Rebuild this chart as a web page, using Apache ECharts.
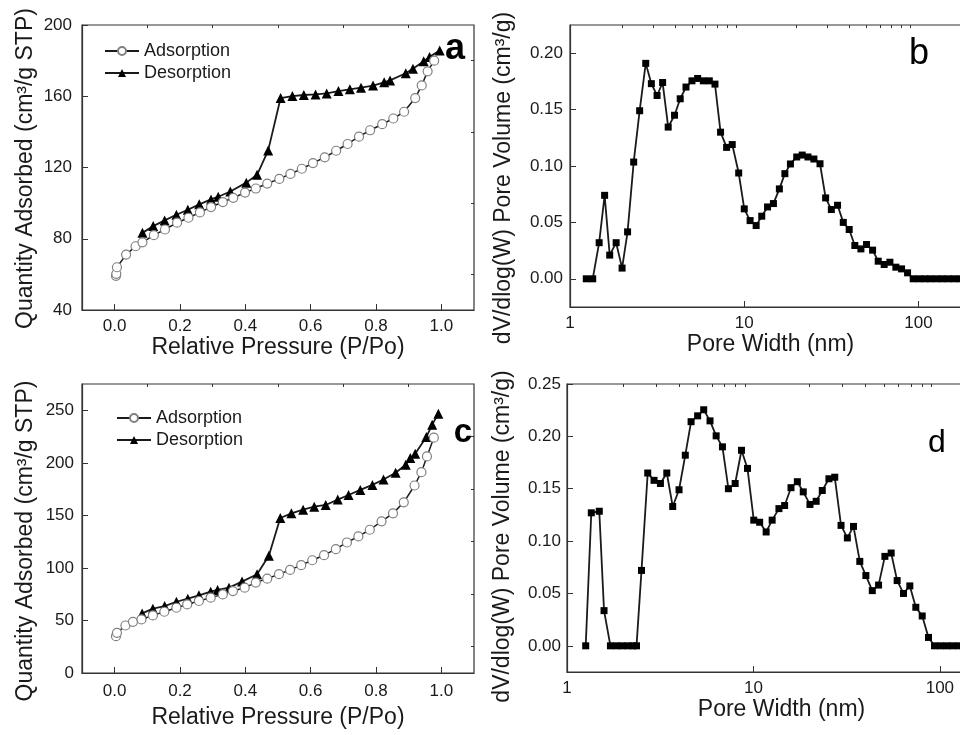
<!DOCTYPE html>
<html>
<head>
<meta charset="utf-8">
<title>N2 sorption isotherms and pore size distribution</title>
<script src="https://cdn.jsdelivr.net/npm/echarts@6/dist/echarts.min.js"></script>
<style>
  html, body { margin: 0; padding: 0; background: #fff; }
  #chart { width: 960px; height: 735px; }
</style>
</head>
<body>
<div id="chart"></div>
<script>
// panel a: isotherm
const aAdsP = [0.004, 0.005, 0.007, 0.035, 0.064, 0.085, 0.12, 0.154, 0.191, 0.226, 0.261, 0.295, 0.331, 0.363, 0.399, 0.432, 0.467, 0.504, 0.538, 0.573, 0.607, 0.643, 0.678, 0.713, 0.748, 0.782, 0.819, 0.853, 0.886, 0.92, 0.94, 0.958, 0.978];
const aAdsQ = [59.2, 60.3, 64, 71.1, 75.8, 78, 82, 85.2, 89, 91.8, 94.8, 97.8, 100.6, 103, 105.9, 108.2, 111, 113.6, 116.4, 119.3, 122.5, 125.7, 129.4, 133.2, 137.3, 140.9, 144.3, 147.5, 151.3, 159, 166.1, 174, 180];
const aDesP = [0.995, 0.964, 0.946, 0.913, 0.891, 0.843, 0.825, 0.791, 0.754, 0.72, 0.685, 0.649, 0.615, 0.579, 0.544, 0.508, 0.47, 0.436, 0.403, 0.354, 0.317, 0.295, 0.259, 0.224, 0.189, 0.153, 0.118, 0.085];
const aDesQ = [185.7, 182.1, 179.7, 175.5, 172.9, 168.9, 167.8, 166, 164.8, 163.9, 162.9, 161.6, 161, 160.7, 160.1, 159, 129.6, 115.9, 111.5, 106.5, 103.6, 102.1, 99.3, 96.3, 93.5, 90.3, 87.1, 83.3];

// panel b: pore size distribution
const bWidth = [1.24, 1.35, 1.47, 1.58, 1.69, 1.84, 1.99, 2.14, 2.32, 2.51, 2.72, 2.93, 3.16, 3.40, 3.66, 3.98, 4.29, 4.63, 5.01, 5.40, 5.82, 6.30, 6.79, 7.31, 7.92, 8.53, 9.29, 10.0, 10.8, 11.7, 12.6, 13.6, 14.7, 15.9, 17.1, 18.4, 20.0, 21.5, 23.2, 25.1, 27.2, 29.3, 31.6, 34.3, 37.0, 40.0, 43.1, 46.7, 50.3, 54.5, 58.7, 63.5, 68.5, 74.1, 79.9, 86.5, 93.2, 101, 109, 117, 127, 137, 148, 160, 173];
const bVolume = [0, 0, 0.032, 0.074, 0.021, 0.032, 0.0095, 0.0416, 0.1035, 0.149, 0.191, 0.173, 0.1625, 0.174, 0.1345, 0.145, 0.1596, 0.17, 0.1755, 0.1776, 0.1755, 0.1755, 0.1726, 0.130, 0.1165, 0.119, 0.0938, 0.062, 0.0516, 0.0472, 0.0555, 0.0637, 0.0667, 0.0797, 0.0932, 0.1018, 0.108, 0.1097, 0.108, 0.1062, 0.102, 0.0717, 0.0614, 0.0652, 0.050, 0.0437, 0.0295, 0.0265, 0.0304, 0.0254, 0.0156, 0.0127, 0.0147, 0.0103, 0.0088, 0.0053, 0, 0, 0, 0, 0, 0, 0, 0, 0];

// panel c: isotherm
const cAdsP = [0.004, 0.007, 0.033, 0.056, 0.082, 0.117, 0.152, 0.189, 0.222, 0.258, 0.294, 0.331, 0.362, 0.398, 0.432, 0.467, 0.503, 0.537, 0.571, 0.605, 0.641, 0.677, 0.711, 0.746, 0.781, 0.817, 0.852, 0.885, 0.918, 0.939, 0.956, 0.977];
const cAdsQ = [35, 38.2, 45.2, 48.7, 51, 54.8, 58.3, 62.1, 65.3, 68.5, 71.7, 74.8, 78, 81.2, 86, 89.8, 94, 98.1, 102.6, 107.3, 112.1, 117.8, 124.2, 130, 136.3, 144.3, 151.9, 162.4, 178.4, 191.1, 206.1, 223.9];
const cDesP = [0.991, 0.972, 0.954, 0.92, 0.905, 0.891, 0.86, 0.823, 0.789, 0.752, 0.716, 0.683, 0.646, 0.611, 0.577, 0.541, 0.507, 0.472, 0.436, 0.39, 0.35, 0.315, 0.294, 0.258, 0.224, 0.189, 0.153, 0.117, 0.084];
const cDesQ = [246.8, 236.3, 224.5, 208.6, 204.5, 198.1, 190.5, 184.1, 179, 174.2, 169.4, 165, 159.9, 158.3, 155.4, 151.9, 147.5, 111.5, 94, 87, 81.2, 79, 77.4, 73.9, 70.7, 67.8, 63.7, 61.2, 56.7];

// panel d: pore size distribution
const dWidth = [1.26, 1.35, 1.49, 1.58, 1.71, 1.84, 1.97, 2.12, 2.26, 2.36, 2.51, 2.71, 2.93, 3.17, 3.43, 3.69, 3.99, 4.31, 4.63, 5.02, 5.41, 5.85, 6.31, 6.82, 7.34, 7.98, 8.63, 9.29, 10.04, 10.8, 11.7, 12.6, 13.7, 14.7, 15.9, 17.2, 18.5, 20.1, 21.7, 23.4, 25.4, 27.3, 29.5, 31.9, 34.4, 37.2, 40.1, 43.4, 46.9, 50.7, 54.8, 59.0, 63.8, 69.0, 74.3, 80.4, 86.9, 93.6, 101, 109, 117, 126];
const dVolume = [0, 0.127, 0.1285, 0.0336, 0, 0, 0, 0, 0, 0, 0.072, 0.165, 0.158, 0.155, 0.165, 0.133, 0.149, 0.182, 0.214, 0.2196, 0.2254, 0.2148, 0.2005, 0.190, 0.150, 0.155, 0.1867, 0.1694, 0.12, 0.118, 0.1087, 0.12, 0.131, 0.134, 0.151, 0.1567, 0.147, 0.135, 0.138, 0.1483, 0.1595, 0.161, 0.115, 0.103, 0.114, 0.0806, 0.0671, 0.0527, 0.058, 0.0854, 0.0886, 0.0623, 0.050, 0.0572, 0.0368, 0.0285, 0.008, 0, 0, 0, 0, 0];

// tick labels
const pTicks = [0, 0.2, 0.4, 0.6, 0.8, 1.0];
const pMinor = [0.1, 0.3, 0.5, 0.7, 0.9];
const aTicks = [40, 80, 120, 160, 200];
const aMinor = [60, 100, 140, 180];
const cTicks = [0, 50, 100, 150, 200, 250];
const cMinor = [25, 75, 125, 175, 225];
const wTicks = [1, 10, 100];
const wMinor = [2, 3, 4, 5, 6, 7, 8, 9, 20, 30, 40, 50, 60, 70, 80, 90, 200];
const bTicks = [0, 0.05, 0.1, 0.15, 0.2];
const bMinor = [0.025, 0.075, 0.125, 0.175];
const dTicks = [0, 0.05, 0.1, 0.15, 0.2, 0.25];
const dMinor = [0.025, 0.075, 0.125, 0.175, 0.225];

const FONT = '"Liberation Sans", Arial, sans-serif';
const INK = '#1a1a1a';
const zip = (xs, ys) => xs.map((x, i) => [x, ys[i]]);

const chart = echarts.init(document.getElementById('chart'));

function xAxes(grid, type, min, max, ticks, minor, fmt, name, nameGap, margin) {
  return [
    {
      gridIndex: grid, type, min, max, logBase: 10,
      name, nameLocation: 'middle', nameGap,
      nameTextStyle: { fontFamily: FONT, fontSize: 23, color: INK },
      axisLine: { show: true, onZero: false, lineStyle: { color: '#333', width: 1.2 } },
      axisTick: { show: true, inside: true, length: 6, customValues: ticks, lineStyle: { color: '#333' } },
      axisLabel: { customValues: ticks, formatter: fmt, margin, fontFamily: FONT, fontSize: 17, color: INK },
      splitLine: { show: false },
    },
    {
      gridIndex: grid, type, min, max, logBase: 10,
      axisLine: { show: false, onZero: false },
      axisTick: { show: true, inside: true, length: 3, customValues: minor, lineStyle: { color: '#333' } },
      axisLabel: { show: false },
      splitLine: { show: false },
    },
  ];
}

// shift: pushes the rotated title downward by shift/2 px
function yAxes(grid, min, max, ticks, minor, fmt, name, nameGap, margin, shift) {
  return [
    {
      gridIndex: grid, type: 'value', min, max,
      name, nameLocation: 'middle', nameGap,
      nameTextStyle: { fontFamily: FONT, fontSize: 23, color: INK, padding: [0, shift, 0, 0] },
      axisLine: { show: true, onZero: false, lineStyle: { color: '#333', width: 1.2 } },
      axisTick: { show: true, inside: true, length: 6, customValues: ticks, lineStyle: { color: '#333' } },
      axisLabel: { customValues: ticks, formatter: fmt, margin, fontFamily: FONT, fontSize: 17, color: INK },
      splitLine: { show: false },
    },
    {
      gridIndex: grid, type: 'value', min, max,
      axisLine: { show: false, onZero: false },
      axisTick: { show: true, inside: true, length: 3, customValues: minor, lineStyle: { color: '#333' } },
      axisLabel: { show: false },
      splitLine: { show: false },
    },
  ];
}

const fmt1 = (v) => Number(v).toFixed(1);
const fmt2 = (v) => Number(v).toFixed(2);
const fmt0 = (v) => String(Math.round(v));

const gridBox = {
  show: true, borderColor: '#333', borderWidth: 1.2, backgroundColor: 'transparent',
  outerBoundsMode: 'none', containLabel: false,
};

const adsStyle = {
  type: 'line', symbol: 'circle', symbolSize: 9, z: 3,
  itemStyle: { color: '#fff', borderColor: '#808080', borderWidth: 1.2 },
  lineStyle: { color: INK, width: 1.5 },
};
const desStyle = {
  type: 'line', symbol: 'triangle', symbolSize: 10, z: 2,
  itemStyle: { color: '#000' },
  lineStyle: { color: INK, width: 1.8 },
};
const psdStyle = {
  type: 'line', symbol: 'rect', symbolSize: 7,
  itemStyle: { color: '#000' },
  lineStyle: { color: INK, width: 1.8 },
};

const legendBase = {
  orient: 'vertical', itemWidth: 34, itemHeight: 10, itemGap: 4,
  data: ['Adsorption', 'Desorption'],
  textStyle: { fontFamily: FONT, fontSize: 18, color: INK },
};

const options = {
  animation: false,
  backgroundColor: '#fff',
  textStyle: { fontFamily: FONT },
  grid: [
    { left: 82, top: 25, width: 392, height: 285, ...gridBox },
    { left: 570, top: 25, width: 401, height: 282, ...gridBox },
    { left: 82, top: 384, width: 392, height: 289, ...gridBox },
    { left: 567, top: 384, width: 429, height: 288, ...gridBox },
  ],
  xAxis: [
    ...xAxes(0, 'value', -0.1, 1.1, pTicks, pMinor, fmt1, 'Relative Pressure (P/Po)', 23, 8),
    ...xAxes(1, 'log', 1, 200, wTicks, wMinor, fmt0, 'Pore Width (nm)', 26, 8),
    ...xAxes(2, 'value', -0.1, 1.1, pTicks, pMinor, fmt1, 'Relative Pressure (P/Po)', 33, 10),
    ...xAxes(3, 'log', 1, 200, wTicks, wMinor, fmt0, 'Pore Width (nm)', 23, 8),
  ],
  yAxis: [
    ...yAxes(0, 40, 200, aTicks, aMinor, fmt0, 'Quantity Adsorbed (cm³/g STP)', 45, 10, 2),
    ...yAxes(1, -0.025, 0.225, bTicks, bMinor, fmt2, 'dV/dlog(W) Pore Volume (cm³/g)', 55, 7, 24),
    ...yAxes(2, 0, 275, cTicks, cMinor, fmt0, 'Quantity Adsorbed (cm³/g STP)', 45, 8, 25),
    ...yAxes(3, -0.025, 0.25, dTicks, dMinor, fmt2, 'dV/dlog(W) Pore Volume (cm³/g)', 53, 6, 17),
  ],
  legend: [
    { ...legendBase, left: 99, top: 37 },
    { ...legendBase, left: 111, top: 404 },
  ],
  series: [
    { ...desStyle, name: 'Desorption', xAxisIndex: 0, yAxisIndex: 0, data: zip(aDesP, aDesQ) },
    { ...adsStyle, name: 'Adsorption', xAxisIndex: 0, yAxisIndex: 0, data: zip(aAdsP, aAdsQ) },
    { ...psdStyle, name: 'b', xAxisIndex: 2, yAxisIndex: 2, data: zip(bWidth, bVolume) },
    { ...desStyle, name: 'Desorption', xAxisIndex: 4, yAxisIndex: 4, data: zip(cDesP, cDesQ) },
    { ...adsStyle, name: 'Adsorption', xAxisIndex: 4, yAxisIndex: 4, data: zip(cAdsP, cAdsQ) },
    { ...psdStyle, name: 'd', xAxisIndex: 6, yAxisIndex: 6, data: zip(dWidth, dVolume) },
  ],
  graphic: [
    { type: 'text', x: 455, y: 49, style: { text: 'a', font: 'bold 36px ' + FONT, fill: '#000', textAlign: 'center', textVerticalAlign: 'middle' } },
    { type: 'text', x: 919, y: 54, style: { text: 'b', font: '36px ' + FONT, fill: '#000', textAlign: 'center', textVerticalAlign: 'middle' } },
    { type: 'text', x: 463, y: 433, style: { text: 'c', font: 'bold 33px ' + FONT, fill: '#000', textAlign: 'center', textVerticalAlign: 'middle' } },
    { type: 'text', x: 937, y: 443, style: { text: 'd', font: '32px ' + FONT, fill: '#000', textAlign: 'center', textVerticalAlign: 'middle' } },
  ],
};

chart.setOption(options);
</script>
</body>
</html>
